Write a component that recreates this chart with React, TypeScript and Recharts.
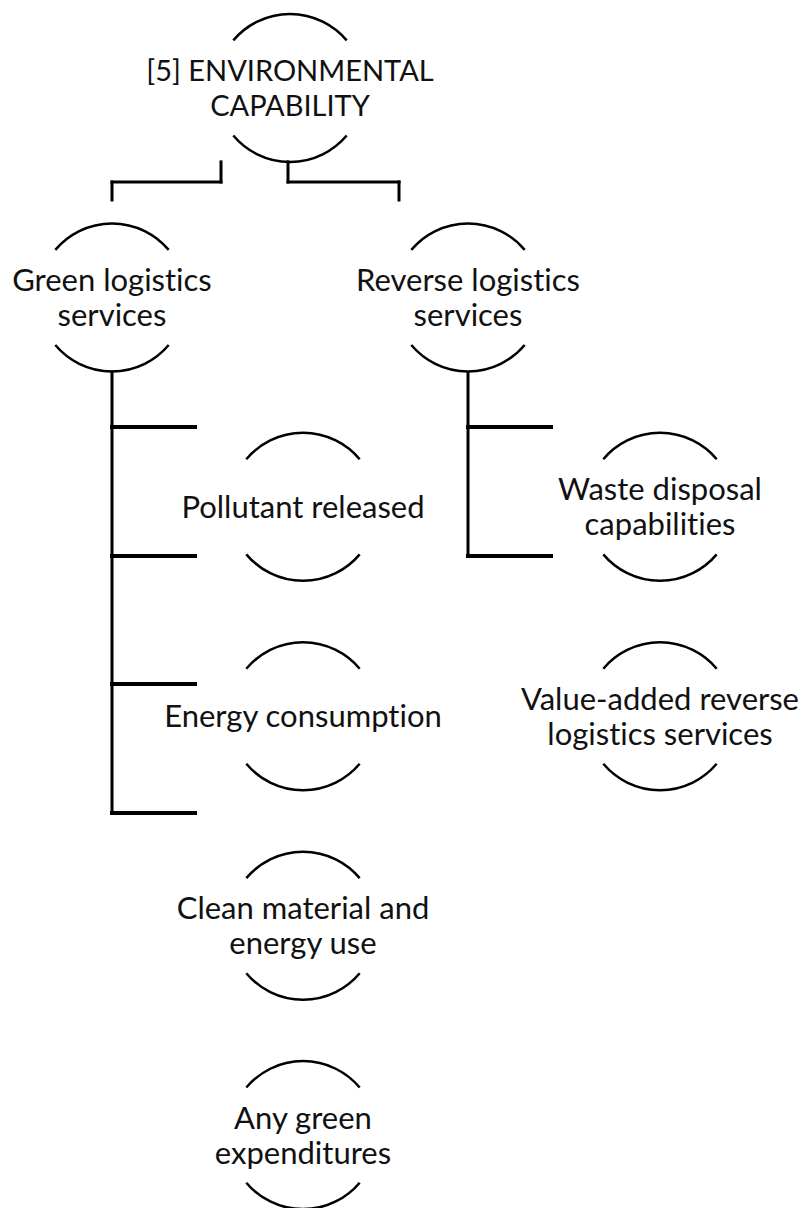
import { ScatterChart, Scatter, XAxis, YAxis, ReferenceLine } from 'recharts';

// node text, column (x) and level (row) of each box in the hierarchy
const nodeLabels = [
  ['[5] ENVIRONMENTAL', 'CAPABILITY'],
  ['Green logistics', 'services'],
  ['Reverse logistics', 'services'],
  ['Pollutant released'],
  ['Energy consumption'],
  ['Clean material and', 'energy use'],
  ['Any green', 'expenditures'],
  ['Waste disposal', 'capabilities'],
  ['Value-added reverse', 'logistics services'],
];
const nodeColumns = [290, 112, 468, 303, 303, 303, 303, 660, 660];
const nodeRows = [0, 1, 1, 2, 3, 4, 5, 2, 3];

// bracket from the root down to the two service groups
const bracketColumns = [[221, 112], [288, 399]];
const bracketRows = [0.353, 0.449, 0.535];

// trunks with their side ticks
const trunkColumns = [112, 468];
const trunkTopRows = [1.356, 1.36];
const greenTickRows = [1.619, 2.235, 2.846, 3.462];
const reverseTickRows = [1.619, 2.235];

const W = 803;
const H = 1208;
const R = 74;
const HALF = (50 * Math.PI) / 180;

const nodes = nodeLabels.map((lines, i) => ({ x: nodeColumns[i], y: nodeRows[i], lines }));

function NodeShape(props: any) {
  const { cx, cy, payload } = props;
  const dx = R * Math.sin(HALF);
  const dy = R * Math.cos(HALF);
  const lines: string[] = payload.lines;
  const n = lines.length;
  const isRoot = payload.y === 0;
  return (
    <g>
      <path
        d={`M${cx - dx},${cy - dy} A${R},${R} 0 0 1 ${cx + dx},${cy - dy}`}
        fill="none"
        stroke="#000"
        strokeWidth={2.5}
      />
      <path
        d={`M${cx + dx},${cy + dy} A${R},${R} 0 0 1 ${cx - dx},${cy + dy}`}
        fill="none"
        stroke="#000"
        strokeWidth={2.5}
      />
      {lines.map((t, i) => (
        <text
          key={t}
          x={cx}
          y={cy + 11 + (i - (n - 1) / 2) * 35}
          textAnchor="middle"
          fontFamily="Lato, 'Open Sans', sans-serif"
          fontSize={isRoot ? 29 : 31}
          fill="#111"
          style={{ fontVariantLigatures: 'none' }}
        >
          {t}
        </text>
      ))}
    </g>
  );
}

const seg = (x1: number, y1: number, x2: number, y2: number, w: number, key: string) => (
  <ReferenceLine
    key={key}
    segment={[{ x: x1, y: y1 }, { x: x2, y: y2 }]}
    stroke="#000"
    strokeWidth={w}
    strokeLinecap="square"
    ifOverflow="visible"
  />
);

export default function App() {
  const lines: any[] = [];
  bracketColumns.forEach(([from, to], i) => {
    lines.push(seg(from, bracketRows[0], from, bracketRows[1], 3, `b${i}a`));
    lines.push(seg(from, bracketRows[1], to, bracketRows[1], 3, `b${i}b`));
    lines.push(seg(to, bracketRows[1], to, bracketRows[2], 3, `b${i}c`));
  });
  [greenTickRows, reverseTickRows].forEach((ticks, i) => {
    const x = trunkColumns[i];
    lines.push(seg(x, trunkTopRows[i], x, ticks[ticks.length - 1], 3, `t${i}`));
    ticks.forEach((r, j) => lines.push(seg(x, r, x + 83, r, 4, `t${i}-${j}`)));
  });

  return (
    <div style={{ position: 'absolute', left: 0, top: 0, width: W, height: H, background: '#fff' }}>
      <ScatterChart width={W} height={H} margin={{ top: 0, right: 0, bottom: 0, left: 0 }}>
        <XAxis type="number" dataKey="x" domain={[0, W]} allowDataOverflow hide />
        <YAxis type="number" dataKey="y" domain={[-0.42, 5.348]} allowDataOverflow reversed hide />
        {lines}
        <Scatter data={nodes} shape={NodeShape} isAnimationActive={false} />
      </ScatterChart>
    </div>
  );
}
